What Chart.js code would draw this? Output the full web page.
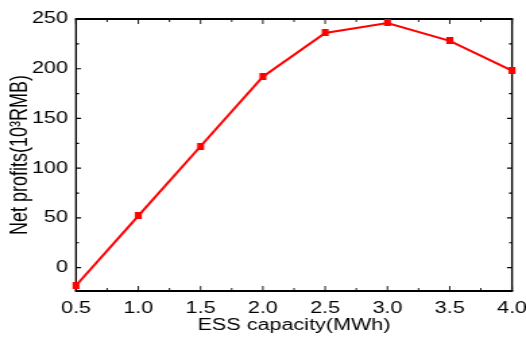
<!DOCTYPE html>
<html>
<head>
<meta charset="utf-8">
<script src="https://cdn.jsdelivr.net/npm/chart.js@4/dist/chart.umd.min.js"></script>
<style>
    html, body { margin: 0; padding: 0; background: #fff; overflow: hidden; }
    #chart { position: absolute; left: 0; top: 0; }
</style>
</head>
<body>
<canvas id="chart"></canvas>
<script>
// ---- data ----
var capacity = [0.5, 1.0, 1.5, 2.0, 2.5, 3.0, 3.5, 4.0];
var profits = [-18, 52, 122, 192, 236, 246, 228, 198];
var xTicks = [0.5, 1.0, 1.5, 2.0, 2.5, 3.0, 3.5, 4.0];
var yTicks = [0, 50, 100, 150, 200, 250];
var yMin = -23.5, yMax = 250;

// the reference image is stretched sideways: draw on a narrow bitmap
// and let the browser stretch it to 526px
var W = 390, H = 339;
var SX = 526 / W;
var canvas = document.getElementById('chart');
canvas.width = W;
canvas.height = H;
canvas.style.width = '526px';
canvas.style.height = H + 'px';

var FONT = "'Liberation Sans', Arial, sans-serif";

function squareMarker(side, color) {
    var c = document.createElement('canvas');
    c.width = 11;
    c.height = Math.round(side);
    var g = c.getContext('2d');
    var w = side / SX;
    g.fillStyle = color;
    g.fillRect((c.width - w) / 2, 0, w, c.height);
    return c;
}

function midpoints(arr) {
    var out = [];
    for (var i = 0; i < arr.length - 1; i++) out.push((arr[i] + arr[i + 1]) / 2);
    return out;
}

// box frame with inward ticks on all four sides
var frameTicks = {
    id: 'frameTicks',
    beforeDatasetsDraw: function (chart) {
        var ctx = chart.ctx, a = chart.chartArea;
        var xs = chart.scales.x, ys = chart.scales.y;
        ctx.save();
        ctx.strokeStyle = '#000';

        function seg(x1, y1, x2, y2) { ctx.moveTo(x1, y1); ctx.lineTo(x2, y2); }

        ctx.lineWidth = 1.8;
        ctx.beginPath();
        seg(a.left - 1 / SX, a.top, a.right + 1 / SX, a.top);
        seg(a.left - 1 / SX, a.bottom, a.right + 1 / SX, a.bottom);
        ctx.stroke();

        ctx.lineWidth = 1.8 / SX;
        ctx.beginPath();
        seg(a.left, a.top, a.left, a.bottom);
        seg(a.right, a.top, a.right, a.bottom);
        ctx.stroke();

        // x ticks (vertical marks)
        ctx.lineWidth = 1.2 / SX;
        ctx.beginPath();
        xTicks.forEach(function (v) {
            var px = xs.getPixelForValue(v);
            seg(px, a.bottom, px, a.bottom - 5);
            seg(px, a.top, px, a.top + 5);
        });
        midpoints(xTicks).forEach(function (v) {
            var px = xs.getPixelForValue(v);
            seg(px, a.bottom, px, a.bottom - 3);
            seg(px, a.top, px, a.top + 3);
        });
        ctx.stroke();

        // y ticks (horizontal marks)
        ctx.lineWidth = 1.2;
        ctx.beginPath();
        yTicks.forEach(function (v) {
            var py = ys.getPixelForValue(v);
            seg(a.left, py, a.left + 5 / SX, py);
            seg(a.right, py, a.right - 5 / SX, py);
        });
        midpoints(yTicks).forEach(function (v) {
            var py = ys.getPixelForValue(v);
            seg(a.left, py, a.left + 3 / SX, py);
            seg(a.right, py, a.right - 3 / SX, py);
        });
        ctx.stroke();
        ctx.restore();
    }
};

var points = capacity.map(function (c, i) { return { x: c, y: profits[i] }; });

new Chart(canvas, {
    type: 'line',
    data: {
        datasets: [{
            data: points,
            borderColor: '#ff0000',
            backgroundColor: '#ff0000',
            borderWidth: 2,
            pointStyle: squareMarker(7, '#ff0000'),
            pointRadius: 3,
            tension: 0,
            clip: false
        }]
    },
    options: {
        responsive: false,
        devicePixelRatio: 1,
        animation: false,
        events: [],
        layout: {
            autoPadding: false,
            padding: { top: 19, right: 14 / SX, bottom: 0, left: 0 }
        },
        plugins: {
            legend: { display: false },
            tooltip: { enabled: false }
        },
        scales: {
            x: {
                type: 'linear',
                min: 0.5,
                max: 4.0,
                afterBuildTicks: function (scale) {
                    scale.ticks = xTicks.map(function (v) { return { value: v }; });
                },
                afterFit: function (scale) {
                    scale.height = 48;
                    scale.paddingLeft = 0;
                    scale.paddingRight = 0;
                },
                grid: { display: false, drawTicks: false },
                border: { display: false },
                ticks: {
                    color: '#000',
                    padding: 8,
                    maxRotation: 0,
                    font: { family: FONT, size: 16 },
                    callback: function (v) { return Number(v).toFixed(1); }
                },
                title: {
                    display: true,
                    text: 'ESS capacity(MWh)',
                    color: '#000',
                    font: { family: FONT, size: 16 },
                    padding: { top: 0, bottom: 4 }
                }
            },
            y: {
                type: 'linear',
                min: yMin,
                max: yMax,
                afterBuildTicks: function (scale) {
                    scale.ticks = yTicks.map(function (v) { return { value: v }; });
                },
                afterFit: function (scale) {
                    scale.width = 76 / SX;
                    scale.paddingTop = 0;
                    scale.paddingBottom = 0;
                },
                grid: { display: false, drawTicks: false },
                border: { display: false },
                ticks: {
                    color: '#000',
                    padding: 8 / SX,
                    font: { family: FONT, size: 16 }
                },
                title: {
                    display: true,
                    text: 'Net profits(10³RMB)',
                    color: '#000',
                    font: { family: FONT, size: 18 },
                    padding: { top: 4, bottom: 0 }
                }
            }
        }
    },
    plugins: [frameTicks]
});
</script>
</body>
</html>
